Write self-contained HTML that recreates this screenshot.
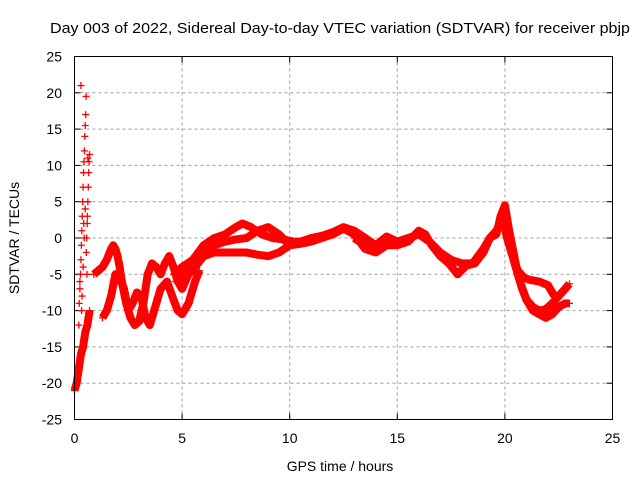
<!DOCTYPE html>
<html><head><meta charset="utf-8"><style>
body{margin:0;background:#fff;}
svg{display:block;font-family:"Liberation Sans",sans-serif;}
</style></head><body>
<svg id="chart" width="640" height="480">
<text x="340" y="33" font-size="15" text-anchor="middle" textLength="580" lengthAdjust="spacingAndGlyphs">Day 003 of 2022, Sidereal Day-to-day VTEC variation (SDTVAR) for receiver pbjp</text>
<text x="340" y="471" font-size="14" text-anchor="middle">GPS time / hours</text>
<text transform="translate(19,238) rotate(-90)" font-size="14" text-anchor="middle">SDTVAR / TECUs</text>
<g id="grid"></g><g id="ticks"></g><g id="series"></g>
<rect x="74.5" y="56.5" width="538" height="363" fill="none" stroke="#000" stroke-width="1"/>
</svg>
<script>
const xTicks=[0,5,10,15,20,25];
const yTicks=[-25,-20,-15,-10,-5,0,5,10,15,20,25];
const trackAT=[0,0.05,0.1,0.15,0.2,0.25,0.3,0.35,0.4,0.45,0.5,0.55,0.6,0.65,0.7];
const trackAV=[-21,-20.5,-20,-19,-18,-17,-16,-15.5,-15,-14,-13,-12.5,-12,-11,-10];
const trackBT=[0.2,0.22,0.25,0.28,0.3,0.32,0.34,0.36,0.38,0.4,0.42,0.44,0.46,0.48,0.5,0.52,0.54,0.3,0.35,0.4,0.45,0.5,0.25,0.33,0.43];
const trackBV=[-12,-9,-7,-5,-3,-1,1,3,5,7,9,10.5,12,14,15.5,17,19.5,21,-8,-4,0,4,-6,-10,2];
const trackCT=[0.55,0.57,0.59,0.6,0.62,0.64,0.66,0.68,0.7,0.62,0.58];
const trackCV=[-2,0,2,3,5,7,9,10.5,11.5,11,-5];
const trackDT=[0.9,1.1,1.3,1.5,1.7,1.8,1.9,2.0,2.1,2.2,2.4,2.6,2.8,3.0,3.2,3.4,3.6,3.8,4.0,4.2,4.4,4.6,4.8,5.0,5.3,5.6,6,6.5,7,7.5,8,8.5,9,9.5,10,10.5,11,11.5,12,12.5,13,13.5,14,14.5];
const trackDV=[-5,-4.5,-4,-3,-1.5,-1,-1.5,-2.5,-4,-6,-9,-11,-12,-11.5,-9,-5,-3.5,-4,-5,-3.5,-2.5,-4,-6,-7,-5,-4,-2.5,-2,-2,-2,-2,-2.3,-2.5,-2,-1,-0.8,-0.5,0,0.5,1.3,0.5,-1.5,-2,-1];
const trackET=[1.3,1.5,1.7,1.9,2.1,2.3,2.5,2.7,2.9,3.1,3.3,3.5,3.7,4.0,4.3,4.6,4.8,5.0,5.3,5.6,5.8];
const trackEV=[-11,-10,-8,-5,-5.5,-7,-10,-9,-7.5,-8,-11,-12,-10,-7,-6,-8.5,-10,-10.5,-9,-6,-4.5];
const trackFT=[4.6,5,5.5,6,6.5,7,7.5,7.8,8.2,8.7,9.2,9.7,10.2,10.7];
const trackFV=[-5,-4,-3,-1,0,0.5,1.5,2,1.5,0.5,0,-0.2,-0.5,-0.5];
const trackGT=[4.7,5.2,5.6,6,6.5,7,7.5,8,8.5,9,9.5,10,10.5,11,11.5,12,12.5,13,13.5,14,14.5,15,15.5,16,16.5,17,17.5,18,18.5,19,19.3,19.6,19.8,20,20.2,20.4,20.6,20.8,21,21.3,21.6,21.9,22.2,22.5,22.8,23];
const trackGV=[-6,-4,-3,-1.5,-1,-0.5,-0.2,0,1,1.5,0.5,-1,-0.5,0,0.3,0.8,1.5,1,0,-1,0.2,-0.5,0,0.5,-0.5,-2,-3,-3.5,-3.5,-1.5,0,0.5,3,4.5,1,-2,-5,-7,-8.5,-10,-10.5,-11,-10.5,-9.5,-9,-9];
const trackHT=[13,13.5,14,14.5,15,15.5,16,16.3,16.6,17,17.4,17.8,18.2,18.6,19,19.3,19.6,19.9,20.1,20.3,20.6,20.9,21.2,21.6,22,22.3];
const trackHV=[0,-1,-1.5,-1,-1,-0.5,1,0.5,-1,-2.5,-3.5,-5,-3.8,-3.5,-2,0,1,2.5,0,-2,-4.5,-5.5,-5.8,-6,-6.5,-8];
const trackIT=[19.8,20.1,20.4,20.7,21,21.3,21.6,21.9,22.2,22.5,22.8,23];
const trackIV=[3,1,-3,-6,-8.5,-9.5,-10,-9.8,-9,-8,-7,-6.3];
const tracks=[[trackAT,trackAV],[trackBT,trackBV],[trackCT,trackCV],[trackDT,trackDV],[trackET,trackEV],[trackFT,trackFV],[trackGT,trackGV],[trackHT,trackHV],[trackIT,trackIV]];
const X0=74.5,X1=612.5,Y0=419.5,Y1=56.5;
function sx(t){return X0+(t-0)/(25-0)*(X1-X0);}
function sy(v){return Y0-(v+25)/50*(Y0-Y1);}
const NS="http://www.w3.org/2000/svg";
const grid=document.getElementById('grid'),ticks=document.getElementById('ticks'),ser=document.getElementById('series');
function mk(tag,attrs,parent){const e=document.createElementNS(NS,tag);for(const k in attrs)e.setAttribute(k,attrs[k]);parent.appendChild(e);return e;}
xTicks.forEach(t=>{const x=sx(t);
 if(t>0&&t<25){const g=mk('line',{x1:x,x2:x,y1:Y1,y2:Y0,stroke:'#a0a0a0','stroke-dasharray':'3,3'},grid);
 
 }
 mk('line',{x1:x,x2:x,y1:Y0,y2:Y0-6,stroke:'#000'},ticks);mk('line',{x1:x,x2:x,y1:Y1,y2:Y1+6,stroke:'#000'},ticks);
 const l=mk('text',{x:x,y:443,'font-size':14,'text-anchor':'middle'},ticks);l.textContent=t;
 
 });
yTicks.forEach(v=>{const y=sy(v);
 if(v>-25&&v<25){const g=mk('line',{x1:X0,x2:X1,y1:y,y2:y,stroke:'#a0a0a0','stroke-dasharray':'3,3'},grid);
 
 }
 mk('line',{x1:X0,x2:X0+6,y1:y,y2:y,stroke:'#000'},ticks);mk('line',{x1:X1,x2:X1-6,y1:y,y2:y,stroke:'#000'},ticks);
 const l=mk('text',{x:62,y:y+5,'font-size':14,'text-anchor':'end'},ticks);l.textContent=v;
 
 });
tracks.forEach((tr,i)=>{const [T,V]=tr;
 const sparse=(i===1||i===2);
 if(!sparse){const pl=mk('polyline',{points:T.map((t,j)=>sx(t)+','+sy(V[j])).join(' '),fill:'none',stroke:'#ff0000','stroke-width':8,'stroke-linejoin':'round'},ser);
 
 }
 T.forEach((t,j)=>{const x=sx(t),y=sy(V[j]);
  const p=mk('path',{d:`M${x-3.5},${y}H${x+3.5}M${x},${y-3.5}V${y+3.5}`,stroke:'#ff0000','stroke-width':1.3},ser);
  
  });});
</script>
</body></html>
